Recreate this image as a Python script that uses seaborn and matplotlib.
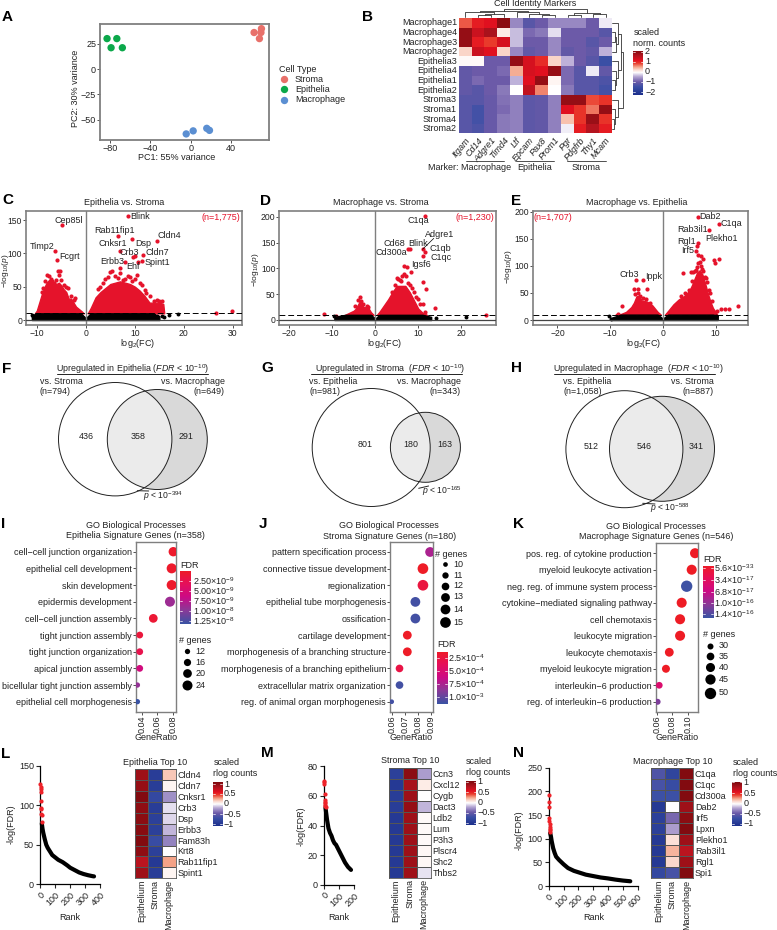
import numpy as np, pandas as pd
import matplotlib
matplotlib.use("Agg")
import matplotlib.pyplot as plt
from matplotlib.colors import LinearSegmentedColormap
from matplotlib.patches import Circle
import seaborn as sns

# ---------- data ----------
pca_type = ["Stroma"]*4 + ["Epithelia"]*4 + ["Macrophage"]*4
pca_pc1 = [63, 70.3, 69.8, 68.3, -83, -73.3, -79, -67.8, -4.4, 2.5, 16, 18.7]
pca_pc2 = [36, 39.8, 36, 30, 30, 30, 21, 21, -64, -61, -58.5, -60.5]

marker_genes = ["Itgam","Cd14","Adgre1","Timd4","Ltf","Epcam","Pax8","Prom1","Pgr","Pdgfrb","Thy1","Mcam"]
marker_samples = ["Macrophage1","Macrophage4","Macrophage3","Macrophage2","Epithelia3","Epithelia4",
                  "Epithelia1","Epithelia2","Stroma3","Stroma1","Stroma4","Stroma2"]
marker_values = [
 [0.8,1.1,1.2,2.0,-0.6,-1.1,-0.9,-0.6,-0.6,-0.6,-0.9,-0.1],
 [1.9,1.4,1.7,0.15,-0.3,-0.8,-0.7,-0.15,-0.9,-0.9,-0.9,-1.1],
 [1.9,1.1,0.9,1.3,-0.3,-0.9,-0.9,-0.6,-0.9,-0.9,-1.1,-0.9],
 [0.3,1.4,1.2,0.3,-0.6,-1.0,-0.9,-0.6,-1.0,-0.9,-1.0,-0.35],
 [0.05,0.05,-0.9,-0.9,1.9,1.3,1.0,0.3,-0.35,-0.9,-1.1,-1.4],
 [-1,-0.9,-0.9,-0.8,0.5,1.3,1.2,1.9,-0.8,-1.1,-0.1,-1.0],
 [-1,-0.8,-0.9,-0.9,-0.35,1.2,1.9,0.07,-0.8,-1.1,-1.1,-1.2],
 [-1,-1.1,-0.9,-0.7,0,1.5,0.65,0,-0.7,-1.1,-1.1,-1.3],
 [-1.1,-1.1,-0.95,-0.75,-0.65,-1.05,-1.0,-0.65,1.9,1.9,0.85,0.95],
 [-1.1,-1.3,-0.95,-0.8,-0.65,-1.05,-1,-0.65,1.2,0.95,0.7,1.9],
 [-1.1,-1.3,-0.95,-0.7,-0.65,-1.05,-1,-0.65,0.4,0.95,1.85,0.95],
 [-1.1,-1.2,-0.95,-0.7,-0.65,-1.05,-1,-0.65,-0.08,1.1,1.6,1.1]]

# volcano C: solid red mass outline, individual red points, black band, black points
c_left_x  = [-10.4,-10,-9.5,-9,-8.5,-8,-7.5,-7,-6.5,-6,-5.5,-5,-4.5,-4,-3.5,-3,-2.5,-2,-1,-0.4]
c_left_y  = [10,14,26,38,48,56,60,60,56,54,56,52,46,42,32,32,26,20,14,10]
c_right_x = [0.4,1,2,3,4,5,6,7,8,9,10,11,12,13,14,15,15.8,16]
c_right_y = [10,18,34,42,48,54,56,58,56,54,50,44,36,26,26,26,24,10]
c_red_x = [8.6,-4.8,-6.2,-5.9,6.5,6.9,9.5,14.6,11.6,9.7,10.0,8,11.4,10.6,6.9,29.9,26.5,
           -8,-7.5,-7.2,-8.3,-6.8,-6.5,-6,-5.7,-5.3,-5.5,-5,-4.5,-4,-3.7,-3,-2.4,-2.2,-9,-8.7,
           2.4,2.8,3.5,4,4.5,5,5.4,6,6.5,7,7.5,8,8.6,9,9.5,10,10.5,11,11.5,12,12.3,13,14,14.5,15,15.5]
c_red_y = [156,142.5,104,89.5,125.5,104,121,118,97,95,96,87.5,88.5,87.5,77.5,14,11,
           68,66,62,58,58,56,60,73,74,68,60,52,50,48,36,30,33,42,48,
           46,50,55,62,65,72,73,66,63,70,60,62,66,65,58,62,68,55,52,45,40,36,28,30,28,29]
c_blk_x = [14,14.5,15.5,16,17,18.8,-11,-10.8]
c_blk_y = [7,6,6,5,8,9,8,6]
c_band_x = [-11,-10,-1,-0.3,0,0.3,1,13,15]
c_band_y = [7,10,10,5,2,5,10,10,6]
c_labels = [("Blink",9.05,156,"left"),("Cep85l",-3.4,150,"center"),("Timp2",-9,110,"center"),("Fcgrt",-3.4,95,"center"),
            ("Rab11fip1",5.8,134,"center"),("Cnksr1",5.5,115,"center"),("Dsp",11.7,115,"center"),("Cldn4",17.1,126.5,"center"),
            ("Cldn7",14.6,101.5,"center"),("Crb3",8.8,101.5,"center"),("Erbb3",5.3,87.5,"center"),("Spint1",14.6,86,"center"),("Ehf",9.7,81,"center")]

# volcano D
d_left_x = [-7,-6,-5,-4.5,-3.6,-3,-2.5,-2,-1.5,-1,-0.4]
d_left_y = [10,14,18,22,36,28,24,27,22,15,10]
d_right_x = [0.4,1,2,3,4,5,6,7,8,9,10,11,12]
d_right_y = [10,16,28,40,54,66,66,66,54,38,22,14,10]
d_red_x = [11.5,11,11.6,11.2,8.1,7.7,6.6,7.4,11.2,11.8,13.9,25.7,-11.8,-9.2,
           5,5.3,5.7,6,3.8,4.5,6.3,6.8,7.2,7.5,8,8.5,9,9.5,10,10.5,11,11.5,8.3,
           -3.6,-4,-3.2,-4.6,-2.8,-2,-1.7]
d_red_y = [201,137,132,123,137,137,104,102,74,60,24,10,11,8,
           82,80,77,75,55,68,85,90,85,72,68,62,55,45,40,30,30,15,92,
           45,38,36,28,30,28,26]
d_blk_x = [21.1,14.1,11.8,9,10,-9.6]
d_blk_y = [6,4.5,4,6,4,8]
d_band_x = [-9.5,-7,-1,-0.3,0,0.3,1,11,13]
d_band_y = [6,10,10,5,2,5,10,10,6]
d_labels = [("C1qa",10.1,192,"center"),("Adgre1",14.9,166,"center"),("C1qb",15.1,139,"center"),("C1qc",15.3,121,"center"),
            ("Blink",9.85,148,"center"),("Cd68",4.4,148,"center"),("Cd300a",3.85,130,"center"),("Igsf6",10.7,108,"center")]

# volcano E
e_left_x = [-9,-8,-7,-6,-5.5,-5,-4.5,-4,-3,-2,-1,-0.4]
e_left_y = [10,11,15,24,32,44,44,36,34,27,15,10]
e_right_x = [0.4,1,2,3,4,5,5.5,6,6.5,7,7.5,8,8.5,9,9.5,10,10.3]
e_right_y = [10,17,29,38,44,54,64,76,88,92,84,68,50,34,22,15,10]
e_red_x = [6.6,10.6,8.8,6.6,6.4,6.3,6.7,7.3,9.6,10.7,9.9,-5.1,-3.7,-3,-5.4,-4.7,-7.8,-8.6,3.9,14.2,12.6,11.8,11.1,10.2,5.4,7.6,8.2,
           -5.2,-4.8,-4.3,-3.8,-3.2,-2.5,5,5.5,5.7,6,6.2,6.5,6.7,7,7.3,7.5,7.7,8,8.3,8.7,9,9.3,4.2,3.5]
e_red_y = [191,177,167,143,137,128,120,119,111,112,105,74,74,58,58,58,26,12,86,25,20,20,20,17,88,112,78,
           48,50,45,40,38,32,55,72,88,90,92,98,105,108,100,95,90,80,70,55,50,35,50,45]
e_blk_x = [-10.2,-9.9,10.1]
e_blk_y = [8,2,8]
e_band_x = [-9.8,-8,-1,-0.3,0,0.3,1,9.5,10.4]
e_band_y = [4,10,10,5,2,5,10,10,8]
e_labels = [("Dab2",8.9,191,"center"),("C1qa",13,178,"center"),("Rab3il1",5.6,167,"center"),("Rgl1",4.5,145,"center"),
            ("Plekho1",11.1,150,"center"),("Irf5",4.7,129,"center"),("Crb3",-6.4,84,"center"),("Ippk",-1.8,80,"center")]

# Venn
venn_titles = ["Upregulated in Epithelia", "Upregulated in Stroma ", "Upregulated in Macrophage "]
venn_left = ["vs. Stroma\n(n=794)", "vs. Epithelia\n(n=981)", "vs. Epithelia\n(n=1,058)"]
venn_right = ["vs. Macrophage\n(n=649)", "vs. Macrophage\n(n=343)", "vs. Stroma\n(n=887)"]
venn_counts = [("436","358","291"), ("801","180","163"), ("512","546","341")]
venn_p = ["394", "165", "588"]

# GO dot plots
i_terms = ["cell\u2212cell junction organization","epithelial cell development","skin development","epidermis development",
           "cell\u2212cell junction assembly","tight junction assembly","tight junction organization","apical junction assembly",
           "bicellular tight junction assembly","epithelial cell morphogenesis"]
i_ratio = [.0808,.0787,.0787,.0765,.055,.0375,.0375,.0375,.0345,.0345]
i_genes = [22,24,24,29,20,15,15,15,11,11]
i_fdr = [5e-10,5e-10,5e-10,9e-9,1e-9,1.5e-9,2.5e-9,6e-9,9.5e-9,1.33e-8]

j_terms = ["pattern specification process","connective tissue development","regionalization","epithelial tube morphogenesis",
           "ossification","cartilage development","morphogenesis of a branching structure","morphogenesis of a branching epithelium",
           "extracellular matrix organization","reg. of animal organ morphogenesis"]
j_ratio = [.0895,.084,.084,.0782,.0782,.072,.072,.066,.066,.06]
j_genes = [14,15,15,14,14,13,13,12,12,10]
j_fdr = [7.5e-4,1.3e-4,2.5e-4,1.1e-3,1.1e-3,1.3e-4,1.3e-4,2.8e-4,1.1e-3,1.1e-3]

k_terms = ["pos. reg. of cytokine production","myeloid leukocyte activation","neg. reg. of immune system process",
           "cytokine\u2212mediated signaling pathway","cell chemotaxis","leukocyte migration","leukocyte chemotaxis",
           "myeloid leukocyte migration","interleukin\u22126 production","reg. of interleukin\u22126 production"]
k_ratio = [.1097,.1053,.0987,.0921,.09,.09,.0758,.0714,.0626,.0604]
k_genes = [44,44,50,44,44,44,39,36,32,27]
k_fdr = [1e-33,1e-33,1.5e-16,1e-33,1e-33,1e-33,1e-33,1e-33,5.5e-17,1.2e-16]

# rank curves
l_red_rank = [1,2,3,4,5,6,7,8,9,10]
l_red = [127,123,120,117,105,97,95,89,88,79]
l_rank = [10,15,20,30,40,50,60,70,80,100,120,150,180,200,230,260,290,320,350,360]
l_fdr = [77,70,65,57,50,46,43,40,37,34,31,28,24,21,18,15,13,11.5,10.3,10]
m_red_rank = [1,2,3,4,5,6,7,8,9,10]
m_red = [70,69.5,68,61,57,56,55,54,53,52.5]
m_rank = [10,15,20,30,40,50,60,70,80,90,100,120,140,160,180]
m_fdr = [52,48,44,38,35,33,30,28,27,25,23,19,15,12,10]
n_red_rank = [1,2,3,4,5,6,7,8,9,10]
n_red = [192,178,168,143,137,131,125,120,118,115]
n_rank = [10,15,20,30,40,50,70,100,130,170,200,250,300,350,400,450,500,550]
n_fdr = [112,105,95,80,70,62,55,46,38,32,29,24,21,18,16,13.5,11.5,10]

top_cols = ["Epithelium","Stroma","Macrophage"]
l_genes = ["Cldn4","Cldn7","Cnksr1","Crb3","Dsp","Erbb3","Fam83h","Krt8","Rab11fip1","Spint1"]
l_vals = [[1.0,-1.0,.2],[1.05,-1.0,.04],[1.15,-.85,-.3],[1.08,-1.0,-.08],[1.1,-.95,-.1],[1.12,-.95,-.18],[1.15,-.8,-.35],[1.08,-.95,0],[.85,-1.05,.3],[1.0,-1.0,.04]]
m_genes = ["Ccn3","Cxcl12","Cygb","Dact3","Ldb2","Lum","P3h3","Plscr4","Shc2","Thbs2"]
m_vals = [[-.95,1.1,-.25],[-1.05,.95,.08],[-1,1,0],[-1,1.05,-.18],[-1.05,1,.02],[-1.05,1,.02],[-1.05,1,.02],[-1.05,1,.03],[-1.05,1,.03],[-1.05,1,-.07]]
n_genes = ["C1qa","C1qc","Cd300a","Dab2","Irf5","Lpxn","Plekho1","Rab3il1","Rgl1","Spi1"]
n_vals = [[-.65,-.9,1.15],[-.7,-.8,1.15],[-.75,-.75,1.15],[-1.05,0,1],[-.95,-.45,1.1],[-.95,-.25,1.15],[-1.05,.12,1],[-1.05,.25,.85],[-1.05,.15,1],[-.85,-.7,1.15]]

# ---------- style ----------
sns.set_theme(style="ticks")
plt.rcParams.update({"font.family":["Liberation Sans","DejaVu Sans"],"mathtext.fontset":"custom",
    "mathtext.rm":"Liberation Sans","mathtext.it":"Liberation Sans:italic","mathtext.bf":"Liberation Sans:bold",
    "mathtext.default":"regular","axes.unicode_minus":True})
W,H = 777,930
FS = 6.5
TXT = "#222222"
GREY = "#7f7f7f"
RED = "#e5132b"
fig = plt.figure(figsize=(W/100,H/100),dpi=100,facecolor="white")

def axpx(x0,y0,x1,y1):
    return fig.add_axes([x0/W,1-y1/H,(x1-x0)/W,(y1-y0)/H])

ov = fig.add_axes([0,0,1,1],zorder=20)
ov.set_xlim(0,W); ov.set_ylim(H,0); ov.axis("off"); ov.patch.set_alpha(0)

def T(x,y,s,ha="left",va="center",fs=FS,c=TXT,**k):
    ov.text(x,y,s,ha=ha,va=va,fontsize=fs,color=c,**k)

for s,x,y in [("A",2,17),("B",362,17),("C",2,200),("D",260,201),("E",511,201),("F",2,369),("G",261,368),("H",511,368),
              ("I",1,524),("J",259,524),("K",513,524),("L",1,754),("M",261,753),("N",513,753)]:
    T(x,y,s,fs=11,c="black",fontweight="bold")

def style_box(ax,c=GREY,lw=1.2,fs=FS):
    for sp in ax.spines.values():
        sp.set_color(c); sp.set_linewidth(lw); sp.set_visible(True)
    ax.tick_params(labelsize=fs,length=2,width=.6,pad=.8,color="#333333",labelcolor=TXT)
    ax.set_xlabel(""); ax.set_ylabel("")

base = [(-1,"#1c2f8c"),(-.65,"#3a4fa5"),(-.42,"#6c5aa8"),(-.18,"#b6a8d4"),(0,"#ffffff"),(.12,"#fbdcd2"),
        (.25,"#f4a58a"),(.42,"#e93a2b"),(.55,"#e3101f"),(.75,"#b4141f"),(1,"#7d0a0e")]
HEAT = LinearSegmentedColormap.from_list("heat",[((p+1)/2,c) for p,c in base])
FDRC = LinearSegmentedColormap.from_list("fdr",["#ee1c25","#e6105a","#cc0a86","#8a3a98","#3a53a4"])

def cbar(x0,y0,x1,y1,cmap,reverse_top=True):
    a = axpx(x0,y0,x1,y1)
    a.imshow(np.linspace(1,0,128)[:,None] if not reverse_top else np.linspace(0,1,128)[:,None],aspect="auto",cmap=cmap,vmin=0,vmax=1)
    a.axis("off")

def cbar_ticks(x0,x1,ys,labs,lx,fs=FS):
    for y,l in zip(ys,labs):
        ov.plot([x0,x0+2],[y,y],color="white",lw=.5)
        ov.plot([x1-2,x1],[y,y],color="white",lw=.5)
        T(lx,y,l,fs=fs)

# ---------- A ----------
axA = axpx(100,24,269,140)
pal = {"Stroma":"#e8706a","Epithelia":"#0ba84a","Macrophage":"#5b8fd2"}
sns.scatterplot(x=pca_pc1,y=pca_pc2,hue=pca_type,palette=pal,s=28,linewidth=0,legend=False,ax=axA)
axA.set_xlim(-90,77.8); axA.set_ylim(-70,44.4)
axA.set_xticks([-80,-40,0,40]); axA.set_yticks([-50,-25,0,25])
style_box(axA,lw=1.3)
T(176.4,157,"PC1: 55% variance",ha="center")
T(75,88,"PC2: 30% variance",ha="center",rotation=90)
T(279,69,"Cell Type")
for y,n in zip([79,89.3,100],["Stroma","Epithelia","Macrophage"]):
    ov.scatter([284],[y],s=28,color=pal[n],linewidth=0)
    T(295,y,n)

# ---------- B ----------
axB = axpx(459,18,611.7,133.5)
sns.heatmap(pd.DataFrame(marker_values,index=marker_samples,columns=marker_genes),cmap=HEAT,vmin=-2.15,vmax=2.15,cbar=False,ax=axB,xticklabels=True,yticklabels=True)
axB.set_xticklabels(marker_genes,rotation=50,ha="right",rotation_mode="anchor",fontsize=FS,style="italic",color=TXT)
axB.set_yticklabels(marker_samples,rotation=0,fontsize=FS,color=TXT)
axB.tick_params(length=0,pad=1.5)
T(535.3,4,"Cell Identity Markers",ha="center")
for xl,xr,y,yl,yr in [(478.2,491,15,17.5,17.5),(484.6,503.8,14,15,17.5),(465.4,494,12.5,17.5,14),
                      (542.2,555,15.5,17.5,17.5),(529.4,548.6,14.5,17.5,15.5),(516.6,539,12.5,17.5,14.5),(480,528,10.8,12.5,12.5),
                      (593.4,606.2,14,17.5,17.5),(567.8,580.6,15.5,17.5,17.5),(574,600,13.5,15.5,14),(504,587,9.3,10.8,13.5)]:
    ov.plot([xl,xl,xr,xr],[yl,y,y,yr],color="#333333",lw=.6)
for yt,yb,x,xt,xb in [(32.4,42.1,614.5,612,612),(37.3,51.7,615.5,614.5,612),(22.8,44.5,618.3,612,615.5),
                      (80.5,90.2,614.5,612,612),(70.9,85.3,615.5,612,614.5),(61.3,78,618,612,615.5),(33.6,69.7,620.5,618.3,618),
                      (119,128.7,613.5,612,612),(109.4,123.9,615,612,613.5),(99.8,116.6,618,612,615),(51.6,108,623.3,620.5,618)]:
    ov.plot([xt,x,x,xb],[yt,yt,yb,yb],color="#333333",lw=.6)
T(427.6,167.7,"Marker: Macrophage")
T(535,167.7,"Epithelia",ha="center"); T(585.7,167.7,"Stroma",ha="center")
for a,b in [(465.8,504),(516.4,554),(566.9,605.6)]:
    ov.plot([a,b],[161,161],color="#333333",lw=.6)
T(633.3,32.7,"scaled"); T(633.3,44,"norm. counts")
cbar(632.8,50.7,642.7,95,HEAT,reverse_top=False)
cbar_ticks(632.8,642.7,[51.7,62,72,82,92.3],["2","1","0","\u22121","\u22122"],645)

# ---------- volcano ----------
def volcano(box,xlim,ylim,xt,yt,lx,ly,rx,ry,rdx,rdy,bx,by,bandx,bandy,labs,title,tx,xlx,yly,n,nx,ny,yl_y):
    ax = axpx(*box)
    ax.fill_between(lx,10,ly,color=RED,lw=1,zorder=2)
    ax.fill_between(rx,10,ry,color=RED,lw=1,zorder=2)
    sns.scatterplot(x=rdx,y=rdy,color=RED,s=9,linewidth=0,ax=ax,zorder=3)
    ax.fill_between(bandx,0,bandy,color="black",lw=1,zorder=3)
    sns.scatterplot(x=bx,y=by,color="black",s=8,linewidth=0,ax=ax,zorder=3)
    ax.axvline(0,color=GREY,lw=1,zorder=4)
    ax.axhline(0,color="#444444",lw=.9,zorder=4)
    ax.axhline(10,color="black",lw=.7,dashes=(6,3),zorder=4)
    ax.set_xlim(*xlim); ax.set_ylim(*ylim)
    ax.set_xticks(xt); ax.set_yticks(yt)
    style_box(ax,fs=6.2)
    for s,x,y,ha in labs:
        ax.text(x,y,s,ha=ha,va="center",fontsize=FS,color=TXT,zorder=5)
    T(nx,ny,n,ha="center",c=RED)
    T(tx,202.5,title,ha="center")
    T(xlx,337,"log$_2$(FC)",ha="center",va="top")
    T(yly,yl_y,"\u2212log$_{10}$($\\mathit{p}$)",ha="center",rotation=90,fs=6)
    return ax

volcano((26,210.7,241.7,325),(-12.2,31.8),(-7.5,164),[-10,0,10,20,30],[0,50,100,150],
        c_left_x,c_left_y,c_right_x,c_right_y,c_red_x,c_red_y,c_blk_x,c_blk_y,c_band_x,c_band_y,c_labels,
        "Epithelia vs. Stroma",124,137.7,5.5,"(n=1,775)",221,217,271)
axD = volcano((279.3,210.7,495.7,325),(-22.3,28),(-9.7,211.6),[-20,-10,0,10,20],[0,50,100,150,200],
        d_left_x,d_left_y,d_right_x,d_right_y,d_red_x,d_red_y,d_blk_x,d_blk_y,d_band_x,d_band_y,d_labels,
        "Macrophage vs. Stroma",381,385,255.5,"(n=1,230)",475,217,270)
axD.plot([11.0,13.6],[137,158],color="black",lw=.5,zorder=5)
volcano((532.7,210.7,748.3,325),(-24.7,16.2),(-9.2,202),[-20,-10,0,10],[0,50,100,150,200],
        e_left_x,e_left_y,e_right_x,e_right_y,e_red_x,e_red_y,e_blk_x,e_blk_y,e_band_x,e_band_y,e_labels,
        "Macrophage vs. Epithelia",636.7,643.3,509,"(n=1,707)",553,217,267)

# ---------- Venn ----------
venn_geo = [((115.2,439.2),56.7,(157.3,439.5),50),((371.2,447.5),59,(425.4,447.3),35),((624.4,449.2),58.5,(662,448.8),52.5)]
venn_title_x = [132.8,390.5,638.3]
venn_rule = [(57,208),(311.2,461.8),(554,714.6)]
venn_lx = [39.6,309.2,563.4]; venn_rx = [225,460.8,714]
venn_nx = [(86.7,138.3,185.8),(364.7,411.3,445),(590.7,644.2,695.7)]
venn_ny = [436.7,444.7,446]
venn_px = [(142.7,495.7),(422.2,491),(649.7,508.3)]
venn_pl = [((137.3,148.7),(490.7,491)),((418.7,428.6),(488.3,486)),((642.7,655),(503.3,504))]
for i,((cl,rl,cr,rr)) in enumerate(venn_geo):
    lc = Circle(cl,rl,fc="none",ec="none"); ov.add_patch(lc)
    ov.add_patch(Circle(cr,rr,fc="#d9d9d9",ec="none"))
    inter = Circle(cr,rr,fc="#ebebeb",ec="none"); ov.add_patch(inter); inter.set_clip_path(lc)
    ov.add_patch(Circle(cl,rl,fc="none",ec="#222222",lw=.7))
    ov.add_patch(Circle(cr,rr,fc="none",ec="#222222",lw=.7))
    T(venn_title_x[i],369.3,venn_titles[i]+" ($\\mathit{FDR}$ < 10$^{-10}$)",ha="center",fs=6.4)
    ov.plot(venn_rule[i],[374.3,374.3],color="#222222",lw=.7)
    l1,l2 = venn_left[i].split("\n"); r1,r2 = venn_right[i].split("\n")
    T(venn_lx[i],381,l1,fs=6.4); T(venn_lx[i],391.7,l2,fs=6.4)
    T(venn_rx[i],381,r1,ha="right",fs=6.4); T(venn_rx[i],391.7,r2,ha="right",fs=6.4)
    for x,s in zip(venn_nx[i],venn_counts[i]):
        T(x,venn_ny[i],s,ha="center",fs=6.4)
    T(venn_px[i][0],venn_px[i][1],"$\\mathit{p}$ < 10$^{-"+venn_p[i]+"}$",fs=6.2)
    ov.plot(venn_pl[i][0],venn_pl[i][1],color="#222222",lw=.7)

# ---------- GO dot plots ----------
def dots(box,terms,ratio,genes,fdr,xlim,xt,xtl,hn,sz,sn,t1,tx,ty):
    ax = axpx(*box)
    df = pd.DataFrame({"term":terms,"ratio":ratio,"genes":genes,"fdr":fdr})
    sns.scatterplot(data=df,x="ratio",y="term",hue="fdr",palette=FDRC,hue_norm=hn,size="genes",sizes=sz,size_norm=sn,linewidth=0,legend=False,ax=ax,zorder=3)
    ax.set_xlim(*xlim); ax.set_ylim(9.6,-0.6)
    ax.set_xticks(xt); ax.set_xticklabels(xtl,rotation=90)
    style_box(ax,lw=1)
    ax.tick_params(axis="y",labelsize=6.5)
    T(tx,ty,"GO Biological Processes",ha="center")
    T(tx,ty+10.8,t1,ha="center")
    T((box[0]+box[2])/2,737.5,"GeneRatio",ha="center")
    return ax

dots((135.7,541.7,176,711.7),i_terms,i_ratio,i_genes,i_fdr,(.0323,.0843),[.04,.06,.08],["0.04","0.06","0.08"],(0,1.33e-8),(14.6,51.8),(12,24),
     "Epithelia Signature Genes (n=358)",135.7,525)
dots((390,542,432.7,711.7),j_terms,j_ratio,j_genes,j_fdr,(.0587,.0915),[.06,.07,.08,.09],["0.06","0.07","0.08","0.09"],(1.2e-4,1.13e-3),(11.3,59),(10,15),
     "Stroma Signature Genes (n=180)",389.3,525.3)
dots((656,543.3,697.7,711.7),k_terms,k_ratio,k_genes,k_fdr,(.0583,.1132),[.06,.08,.10],["0.06","0.08","0.10"],(0,1.52e-16),(18.7,66.6),(30,50),
     "Macrophage Signature Genes (n=546)",656,526)

def size_leg(title,tx,ty,x,ys,vals,sz,sn,lx):
    T(tx,ty,title)
    for y,v in zip(ys,vals):
        s = sz[0]+(v-sn[0])/(sn[1]-sn[0])*(sz[1]-sz[0])
        ov.scatter([x],[y],s=s,color="black",linewidth=0)
        T(lx,y,str(v))

T(180.7,565,"FDR")
cbar(180,571,190.7,624.3,FDRC)
cbar_ticks(180,190.7,[581,591,601.3,611.3,621.3],["2.50\u00d710$^{-9}$","5.00\u00d710$^{-9}$","7.50\u00d710$^{-9}$","1.00\u00d710$^{-8}$","1.25\u00d710$^{-8}$"],192.7)
size_leg("# genes",178.7,640.7,186.7,[651.3,662.3,673.3,685.3],[12,16,20,24],(14.6,51.8),(12,24),195.7)

size_leg("# genes",435,554,445.3,[564.3,575,585.7,596.7,609,622.3],[10,11,12,13,14,15],(11.3,59),(10,15),453.3)
T(437,644.7,"FDR")
cbar(437,651.7,447.3,704,FDRC)
cbar_ticks(437,447.3,[658.3,671.3,684.3,697.3],["2.5\u00d710$^{-4}$","5.0\u00d710$^{-4}$","7.5\u00d710$^{-4}$","1.0\u00d710$^{-3}$"],448.3)

T(703.3,559.3,"FDR")
cbar(702.7,566,713,618.3,FDRC)
cbar_ticks(702.7,713,[568.3,580.3,591.7,602.7,614.3],["5.6\u00d710$^{-33}$","3.4\u00d710$^{-17}$","6.8\u00d710$^{-17}$","1.0\u00d710$^{-16}$","1.4\u00d710$^{-16}$"],714)
size_leg("# genes",703,634,710,[645.7,656.3,667.3,679,692.7],[30,35,40,45,50],(18.7,66.6),(30,50),719)

# ---------- rank curves ----------
def rank(box,rr,rv,x,y,xlim,ylim,xt,yt,ylx,yly,rx):
    ax = axpx(*box)
    sns.lineplot(x=x,y=y,color="black",lw=3,ax=ax,clip_on=False,solid_capstyle="round")
    sns.scatterplot(x=rr,y=rv,color="#ee2229",s=9,linewidth=0,ax=ax,clip_on=False,zorder=3)
    ax.set_xlim(*xlim); ax.set_ylim(*ylim)
    ax.set_xticks(xt); ax.set_yticks(yt)
    ax.set_xticklabels([str(v) for v in xt],rotation=45,ha="right",rotation_mode="anchor")
    sns.despine(ax=ax)
    for n in ["left","bottom"]:
        ax.spines[n].set_linewidth(.9); ax.spines[n].set_color("black")
    ax.tick_params(labelsize=6.5,length=3,width=.8,pad=1.5,labelcolor=TXT)
    ax.set_xlabel(""); ax.set_ylabel("")
    T(ylx,yly,"-log(FDR)",ha="center",rotation=90,fs=6.5)
    T(rx,917,"Rank",ha="center",fs=6.5)

rank((40.3,765.7,100,884.3),l_red_rank,l_red,l_rank,l_fdr,(0,400),(0,150),[0,100,200,300,400],[0,50,100,150],10.7,824,70)
rank((324,766.3,354,884.7),m_red_rank,m_red,m_rank,m_fdr,(0,200),(0,80),[0,100,200],[0,20,40,60,80],301,826,339)
rank((548.7,767.7,637.7,886),n_red_rank,n_red,n_rank,n_fdr,(0,600),(0,250),[0,100,200,300,400,500,600],[0,50,100,150,200,250],519,830,593.3)

# ---------- top-10 heatmaps ----------
def top(box,genes,vals,title,tx,ty,lx,sy,bar,ticks):
    ax = axpx(*box)
    sns.heatmap(pd.DataFrame(vals,index=genes,columns=top_cols),cmap=HEAT,vmin=-1.18,vmax=1.18,cbar=False,linewidths=.5,linecolor="#555555",ax=ax,xticklabels=True,yticklabels=True)
    for sp in ax.spines.values():
        sp.set_visible(True); sp.set_color("#555555"); sp.set_linewidth(.6)
    ax.yaxis.tick_right()
    ax.set_yticklabels(genes,rotation=0,fontsize=6.5,color=TXT)
    ax.set_xticklabels(top_cols,rotation=90,fontsize=6.5,color=TXT)
    ax.tick_params(length=0,pad=1.2)
    T(tx,ty,title,ha="center",fs=6.5)
    T(lx,sy,"scaled",fs=6.5); T(lx,sy+11,"rlog counts",fs=6.5)
    cbar(*bar,HEAT,reverse_top=False)
    cbar_ticks(bar[0],bar[2],ticks,["1","0.5","0","\u22120.5","\u22121"],bar[2]+1.7,fs=6.5)

top((134.7,769,176,878.3),l_genes,l_vals,"Epithelia Top 10",155,762.3,213.3,762.7,(212.7,781.7,222.3,825.7),[784,793.7,803.7,814,824])
top((389,767.7,430.7,877.7),m_genes,m_vals,"Stroma Top 10",409.7,760.3,466,761.7,(465.7,781,475.7,825),[781.5,792.3,802.3,812.7,823])
top((651.3,768.3,693.3,878.3),n_genes,n_vals,"Macrophage Top 10",672.3,761.7,732.7,762.7,(732,781.7,741.7,825.7),[782.3,793.3,803.3,813.7,823.7])

fig.savefig("out.png",dpi=100)
